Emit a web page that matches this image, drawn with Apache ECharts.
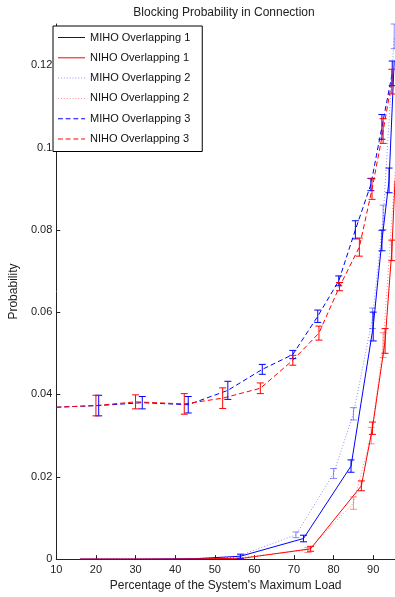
<!DOCTYPE html>
<html>
<head>
<meta charset="utf-8">
<script src="https://cdn.jsdelivr.net/npm/echarts@6/dist/echarts.min.js"></script>
<style>
html,body{margin:0;padding:0;background:#fff;}
#c{width:395px;height:597px;}
</style>
</head>
<body>
<div id="c"></div>
<script>
// ---- data ----
const seriesNames = ['MIHO Overlapping 1','NIHO Overlapping 1','MIHO Overlapping 2','NIHO Overlapping 2','MIHO Overlapping 3','NIHO Overlapping 3'];

const miho1X = [16, 30, 45, 56.5, 72.4, 84.4, 90, 92.2, 94, 95.3];
const miho1Y = [0, 0, 0.0001, 0.0007, 0.005, 0.0226, 0.0565, 0.0774, 0.092, 0.121];
const miho1E = [0, 0, 0, 0.0005, 0.0008, 0.0015, 0.0035, 0.0025, 0.003, 0];

const niho1X = [16, 40, 57, 74.2, 87, 89.8, 93, 94.7, 95.5];
const niho1Y = [0, 0, 0.0002, 0.0025, 0.0178, 0.0318, 0.053, 0.075, 0.092];
const niho1E = [0, 0, 0, 0.0006, 0.0012, 0.0015, 0.003, 0.0025, 0];

const miho2X = [16, 40, 55, 70.5, 80, 85, 89.8, 92.5, 95.3];
const miho2Y = [0, 0, 0.0004, 0.0059, 0.0208, 0.0353, 0.0585, 0.083, 0.127];
const miho2E = [0, 0, 0, 0.0007, 0.0012, 0.0015, 0.0025, 0.003, 0.003];

const niho2X = [16, 55, 73.5, 85, 89.5, 92.5, 95.5];
const niho2Y = [0, 0.0002, 0.0022, 0.0136, 0.030, 0.052, 0.094];
const niho2E = [0, 0, 0.0006, 0.0015, 0.002, 0.003, 0];

const miho3X = [10, 20.7, 31.7, 43.3, 53.3, 62, 69.7, 76, 81.3, 85.5, 89.4, 92.2, 94.8];
const miho3Y = [0.0369, 0.0373, 0.0380, 0.0375, 0.0410, 0.0461, 0.0497, 0.0590, 0.0676, 0.0800, 0.0910, 0.1050, 0.1180];
const miho3E = [0, 0.0025, 0.0015, 0.002, 0.0022, 0.0012, 0.001, 0.0015, 0.0012, 0.0022, 0.0015, 0.003, 0.003];

const niho3X = [10, 20, 30, 42.3, 52, 61.5, 69.7, 76.3, 81.5, 86.5, 89.7, 92.5, 94.7];
const niho3Y = [0.0369, 0.0373, 0.0382, 0.0377, 0.0391, 0.0415, 0.0483, 0.0549, 0.0662, 0.0758, 0.0899, 0.1040, 0.1160];
const niho3E = [0, 0.0025, 0.0017, 0.0025, 0.0025, 0.0013, 0.0012, 0.0017, 0.001, 0.0022, 0.0025, 0.003, 0.003];

const xTicks = ['10','20','30','40','50','60','70','80','90'];
const yTicks = ['0','0.02','0.04','0.06','0.08','0.1','0.12'];

// ---- build ----
const FONT = 'Liberation Sans, Arial, sans-serif';
const ICON_SOLID = 'path://M0,0h28v1h-28z';
const ICON_DASH = 'path://M0,0h5v1h-5z M8,0h5v1h-5z M16,0h5v1h-5z M24,0h4v1h-4z';
let dots = '';
for (let i = 0; i < 10; i++) dots += 'M' + (i * 3) + ',0h1v1h-1z ';
const ICON_DOT = 'path://' + dots.trim();

const defs = [
  {name: seriesNames[0], x: miho1X, y: miho1Y, e: miho1E, color: '#0000ff', type: 'solid', op: 1, icon: ICON_SOLID},
  {name: seriesNames[1], x: niho1X, y: niho1Y, e: niho1E, color: '#ff0000', type: 'solid', op: 1, icon: ICON_SOLID},
  {name: seriesNames[2], x: miho2X, y: miho2Y, e: miho2E, color: '#0000ff', type: [1, 2], op: 0.45, icon: ICON_DOT},
  {name: seriesNames[3], x: niho2X, y: niho2Y, e: niho2E, color: '#ff0000', type: [1, 2], op: 0.45, icon: ICON_DOT},
  {name: seriesNames[4], x: miho3X, y: miho3Y, e: miho3E, color: '#0000ff', type: [5, 3], op: 1, icon: ICON_DASH},
  {name: seriesNames[5], x: niho3X, y: niho3Y, e: niho3E, color: '#ff0000', type: [5, 3], op: 1, icon: ICON_DASH}
];

function errRender(color, op) {
  return function (params, api) {
    const x = api.value(0), lo = api.value(1), hi = api.value(2);
    const p1 = api.coord([x, lo]), p2 = api.coord([x, hi]);
    const w = 3.5;
    const style = {stroke: color, lineWidth: 1, opacity: op, fill: null};
    return {type: 'group', children: [
      {type: 'line', shape: {x1: p1[0], y1: p1[1], x2: p2[0], y2: p2[1]}, style: style},
      {type: 'line', shape: {x1: p1[0]-w, y1: p1[1], x2: p1[0]+w, y2: p1[1]}, style: style},
      {type: 'line', shape: {x1: p2[0]-w, y1: p2[1], x2: p2[0]+w, y2: p2[1]}, style: style}
    ]};
  };
}

const series = [];
defs.forEach(function (d) {
  series.push({
    name: d.name, type: 'line', symbol: 'none', animation: false, color: d.color,
    data: d.x.map(function (v, i) { return [v, d.y[i]]; }),
    lineStyle: {color: d.color, width: 1, type: d.type, opacity: d.op},
    itemStyle: {color: d.color, opacity: d.op},
    z: 3
  });
});
defs.forEach(function (d) {
  const data = [];
  d.x.forEach(function (v, i) { if (d.e[i] > 0) data.push([v, d.y[i]-d.e[i], d.y[i]+d.e[i]]); });
  series.push({
    name: d.name + ' err', type: 'custom', animation: false, color: d.color,
    renderItem: errRender(d.color, d.op),
    encode: {x: 0, y: [1, 2]},
    data: data, z: 4
  });
});

const legendData = defs.map(function (d) {
  return {name: d.name, icon: d.icon, itemStyle: {color: d.color, opacity: d.op, borderWidth: 0}};
});

const chart = echarts.init(document.getElementById('c'), null, {renderer: 'canvas'});
chart.setOption({
  animation: false,
  backgroundColor: '#fff',
  color: ['#0000ff', '#ff0000', '#0000ff', '#ff0000', '#0000ff', '#ff0000'],
  grid: {left: 53, right: 0, top: 24, bottom: 34, containLabel: false},
  graphic: [{
    type: 'text', x: 224, y: 13,
    style: {text: 'Blocking Probability in Connection', fontSize: 12, fontFamily: FONT, fill: '#222', textAlign: 'center', textVerticalAlign: 'middle'}
  }],
  legend: {
    data: legendData, orient: 'vertical', left: 53, top: 26,
    backgroundColor: '#fff', borderColor: '#000', borderWidth: 1,
    padding: [5, 12, 6, 5], itemWidth: 27, itemHeight: 1, itemGap: 7.3,
    symbolKeepAspect: false,
    textStyle: {fontSize: 11, fontFamily: FONT, color: '#111', lineHeight: 13, height: 13},
    z: 10
  },
  xAxis: {
    type: 'value', min: 10, max: 95.5, interval: 10,
    name: "Percentage of the System's Maximum Load", nameLocation: 'middle', nameGap: 15,
    nameTextStyle: {fontSize: 12, fontFamily: FONT, color: '#222'},
    axisLine: {lineStyle: {color: '#222', width: 1}},
    axisTick: {inside: true, length: 4, lineStyle: {color: '#222'}},
    axisLabel: {fontSize: 11, fontFamily: FONT, color: '#222', margin: 5, showMaxLabel: false,
      formatter: function (v) { const i = Math.round((v - 10) / 10); return xTicks[i] || ''; }},
    splitLine: {show: false}
  },
  yAxis: {
    type: 'value', min: 0, max: 0.13, interval: 0.02,
    name: 'Probability', nameLocation: 'middle', nameGap: 30,
    nameTextStyle: {fontSize: 12, fontFamily: FONT, color: '#222'},
    axisLine: {show: true, lineStyle: {color: '#222', width: 1}},
    axisTick: {show: true, inside: true, length: 4, lineStyle: {color: '#222'}},
    axisLabel: {fontSize: 11, fontFamily: FONT, color: '#222', margin: 4, showMaxLabel: false,
      formatter: function (v) { const i = Math.round(v / 0.02); return yTicks[i] || ''; }},
    splitLine: {show: false}
  },
  series: series
});
</script>
</body>
</html>
